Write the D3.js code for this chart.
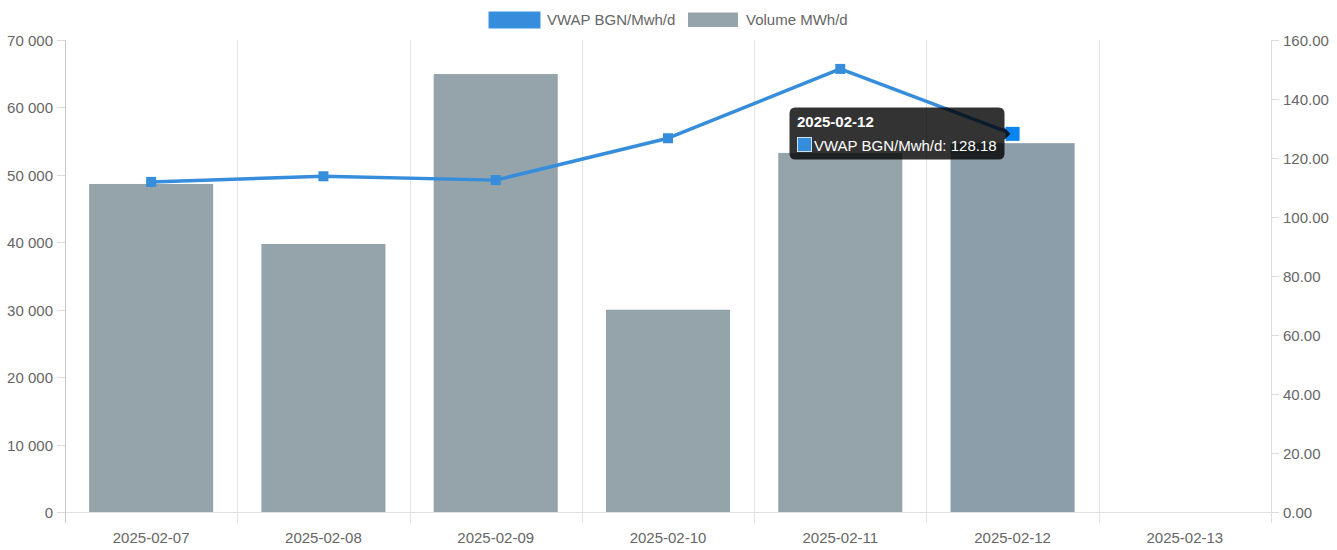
<!DOCTYPE html>
<html><head><meta charset="utf-8">
<script src="https://cdn.jsdelivr.net/npm/d3@7/dist/d3.min.js"></script>
<style>html,body{margin:0;padding:0;background:#fff;}svg{display:block;}</style>
</head><body>
<svg id="chart" width="1337" height="550"></svg>
<script>
const categories = ["2025-02-07","2025-02-08","2025-02-09","2025-02-10","2025-02-11","2025-02-12","2025-02-13"];
const volume = [48650, 39750, 64950, 30000, 53250, 54700, null];
const vwap = [111.9, 113.8, 112.5, 126.7, 150.2, 128.18, null];
const leftTicks = [0,10000,20000,30000,40000,50000,60000,70000];
const rightTicks = [0,20,40,60,80,100,120,140,160];
const seriesNames = ["VWAP BGN/Mwh/d", "Volume MWh/d"];
const hoverIndex = 5;

const W = 1337, H = 550;
const m = {l:65, r:66, t:40, b:38};
const svg = d3.select("#chart");
const font = "'Liberation Sans', Arial, Helvetica, sans-serif";
const fs = 15;
const txt = "#666";
const blue = "#368ddb", grey = "#95a3ab", greyHover = "#8c9eaa";

const x = d3.scaleBand().domain(categories).range([m.l, W-m.r]).paddingInner(0).paddingOuter(0);
const yL = d3.scaleLinear().domain([0,70000]).range([H-m.b, m.t]);
const yR = d3.scaleLinear().domain([0,160]).range([H-m.b, m.t]);
const bw = x.bandwidth();
const fmtL = v => d3.format(",")(v).replace(/,/g," ");

// vertical grid lines
const gGrid = svg.append("g");
categories.forEach((c,i)=>{
  if(i===0) return;
  const gx = Math.round(x(c))+0.5;
  gGrid.append("line").attr("x1",gx).attr("x2",gx).attr("y1",m.t).attr("y2",H-m.b+11)
    .attr("stroke","#e5e5e5").attr("stroke-width",1);
});
// right edge grid
gGrid.append("line").attr("x1",W-m.r+0.5).attr("x2",W-m.r+0.5).attr("y1",m.t).attr("y2",H-m.b+11)
  .attr("stroke","#dcdcdc");
// bottom axis line
svg.append("line").attr("x1",m.l).attr("x2",W-m.r).attr("y1",yL(0)+0.5).attr("y2",yL(0)+0.5)
  .attr("stroke","#e0e0e0");

// bars
svg.append("g").selectAll("rect").data(volume.map((v,i)=>({v,i}))).join("rect")
  .filter(d=>d.v!=null)
  .attr("x",d=>x(categories[d.i]) + bw*0.14)
  .attr("width",bw*0.72)
  .attr("y",d=>yL(d.v))
  .attr("height",d=>yL(0)-yL(d.v))
  .attr("fill",d=>d.i===hoverIndex?greyHover:grey);

// left axis
const axL = svg.append("g");
axL.append("line").attr("x1",m.l+0.5).attr("x2",m.l+0.5).attr("y1",m.t).attr("y2",H-m.b+11).attr("stroke","#c6c6c6");
leftTicks.forEach(t=>{
  const ty = Math.round(yL(t))+0.5;
  axL.append("line").attr("x1",m.l-8).attr("x2",m.l).attr("y1",ty).attr("y2",ty).attr("stroke","#ddd");
  axL.append("text").attr("x",m.l-12).attr("y",ty).attr("dy","0.35em").attr("text-anchor","end")
    .attr("font-family",font).attr("font-size",fs).attr("fill",txt).text(fmtL(t));
});
// right axis
const axR = svg.append("g");
rightTicks.forEach(t=>{
  const ty = Math.round(yR(t))+0.5;
  axR.append("line").attr("x1",W-m.r).attr("x2",W-m.r+8).attr("y1",ty).attr("y2",ty).attr("stroke","#ddd");
  axR.append("text").attr("x",W-m.r+12).attr("y",ty).attr("dy","0.35em").attr("text-anchor","start")
    .attr("font-family",font).attr("font-size",fs).attr("fill",txt).text(d3.format(".2f")(t));
});
// x labels
categories.forEach(c=>{
  svg.append("text").attr("x",x(c)+bw/2).attr("y",H-m.b+26).attr("dy","0.35em").attr("text-anchor","middle")
    .attr("font-family",font).attr("font-size",fs).attr("fill",txt).text(c);
});

// line
const pts = vwap.map((v,i)=>({v,i})).filter(d=>d.v!=null);
const line = d3.line().x(d=>x(categories[d.i])+bw/2).y(d=>yR(d.v));
svg.append("path").datum(pts).attr("d",line).attr("fill","none").attr("stroke",blue).attr("stroke-width",3.5)
  .attr("stroke-linejoin","round");
svg.append("g").selectAll("rect").data(pts).join("rect")
  .attr("x",d=>x(categories[d.i])+bw/2-(d.i===hoverIndex?7:5))
  .attr("y",d=>yR(d.v)-(d.i===hoverIndex?7:5))
  .attr("width",d=>d.i===hoverIndex?14:10)
  .attr("height",d=>d.i===hoverIndex?14:10)
  .attr("fill",d=>d.i===hoverIndex?"#0a84f0":blue);

// legend
const lg = svg.append("g");
lg.append("rect").attr("x",489).attr("y",12).attr("width",51).attr("height",16).attr("fill",blue).attr("stroke","#3a92e0").attr("stroke-width",1);
lg.append("text").attr("x",547).attr("y",19.5).attr("dy","0.35em").attr("font-family",font).attr("font-size",fs).attr("fill",txt).text(seriesNames[0]);
lg.append("rect").attr("x",688).attr("y",12.5).attr("width",50).attr("height",14.5).attr("fill",grey);
lg.append("text").attr("x",746).attr("y",19.5).attr("dy","0.35em").attr("font-family",font).attr("font-size",fs).attr("fill",txt).text(seriesNames[1]);

// tooltip
const px = x(categories[hoverIndex])+bw/2, py = yR(vwap[hoverIndex]);
const tt = svg.append("g");
const tx0 = 789.5, ty0 = 107.5, tw = 215, th = 52, r = 6;
const caretX = px - 2, cy = py;
const pathD = `M${tx0+r},${ty0} H${tx0+tw-r} Q${tx0+tw},${ty0} ${tx0+tw},${ty0+r} V${cy-6} L${caretX},${cy} L${tx0+tw},${cy+6} V${ty0+th-r} Q${tx0+tw},${ty0+th} ${tx0+tw-r},${ty0+th} H${tx0+r} Q${tx0},${ty0+th} ${tx0},${ty0+th-r} V${ty0+r} Q${tx0},${ty0} ${tx0+r},${ty0} Z`;
tt.append("path").attr("d",pathD).attr("fill","rgba(0,0,0,0.8)");
tt.append("text").attr("x",797).attr("y",127).attr("font-family",font).attr("font-size",fs).attr("font-weight","bold").attr("fill","#fff").text(categories[hoverIndex]);
tt.append("rect").attr("x",797.5).attr("y",137.5).attr("width",14).attr("height",14).attr("fill",blue).attr("stroke","#cfe3f7").attr("stroke-width",1);
tt.append("text").attr("x",814).attr("y",151).attr("font-family",font).attr("font-size",fs).attr("fill","#fff")
  .text(seriesNames[0] + ": " + d3.format(".2f")(vwap[hoverIndex]));
</script>
</body></html>
